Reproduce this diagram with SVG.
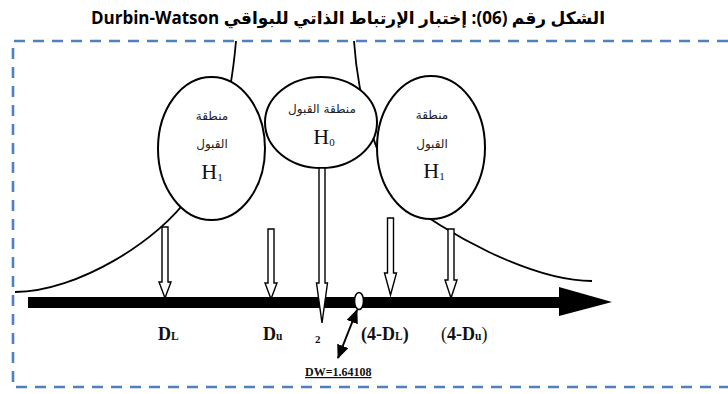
<svg xmlns="http://www.w3.org/2000/svg" width="728" height="394" viewBox="0 0 728 394">
  <style>
    .frame { fill: none; stroke: #4F81BD; stroke-width: 2.6; stroke-dasharray: 11 8; }
    .curve { fill: none; stroke: #000; stroke-width: 1.8; }
    .zone { fill: #fff; stroke: #000; stroke-width: 2; }
    .hollow { fill: #fff; stroke: #000; stroke-width: 1.4; stroke-linejoin: miter; }
    .ar { font-family: "DejaVu Sans", sans-serif; font-size: 12px; fill: #222; text-anchor: middle; direction: rtl; }
    .h { font-family: "Liberation Serif", "Times New Roman", serif; font-size: 22px; fill: #111; text-anchor: middle; }
    .sub { font-size: 11px; }
    .lbl { font-family: "Liberation Serif", "Times New Roman", serif; font-weight: bold; font-size: 18px; fill: #111; }
    .tick { font-family: "Liberation Serif", "Times New Roman", serif; font-weight: bold; font-size: 11px; fill: #111; }
    .dw { font-family: "Liberation Serif", "Times New Roman", serif; font-weight: bold; font-size: 12px; fill: #111; text-decoration: underline; }
    .small { font-size: 11.5px; }
    .title { font-family: "Open Sans", "DejaVu Sans", sans-serif; font-weight: bold; font-size: 17px; fill: #000; text-anchor: middle; direction: rtl; unicode-bidi: embed; }
  </style>
  <defs>
    <marker id="tri" markerUnits="userSpaceOnUse" markerWidth="14" markerHeight="12" refX="13" refY="6" orient="auto-start-reverse">
      <path d="M0,0 L14,6 L0,12 z" fill="#000"/>
    </marker>
  </defs>

  <rect width="728" height="394" fill="#fff"/>

  <!-- title -->
  <text class="title" x="348" y="24">الشكل رقم (06): إختبار الإرتباط الذاتي للبواقي Durbin-Watson</text>

  <!-- dashed frame, open on the right -->
  <path class="frame" d="M728,41 H13 V387 H728"/>

  <!-- bell-shaped density curve (partly hidden by the zones) -->
  <g id="curve">
    <path class="curve" d="M15,292 C77,292 160,240 190,195 C215,160 230,110 236,41"/>
    <path class="curve" d="M354,41 C358,100 375,160 405,200 C440,230 530,281 592,281"/>
  </g>

  <!-- horizontal axis with arrowhead -->
  <g id="axis">
    <rect x="28" y="297" width="533" height="11" fill="#000"/>
    <path d="M559,287 L612,302 L559,316 z" fill="#000"/>
  </g>

  <!-- zones -->
  <g id="zone-h1-left">
    <ellipse class="zone" cx="211.5" cy="148.5" rx="53.5" ry="71.5"/>
    <text class="ar" x="212" y="120">منطقة</text>
    <text class="ar" x="212" y="148">القبول</text>
    <text class="h" x="212" y="179">H<tspan class="sub" dy="2">1</tspan></text>
  </g>
  <g id="zone-h0">
    <ellipse class="zone" cx="321" cy="122.5" rx="56" ry="45.5"/>
    <text class="ar" x="322" y="113">منطقة القبول</text>
    <text class="h" x="324" y="144">H<tspan class="sub" dy="2">0</tspan></text>
  </g>
  <g id="zone-h1-right">
    <ellipse class="zone" cx="431" cy="147.5" rx="54" ry="71.5"/>
    <text class="ar" x="432" y="119">منطقة</text>
    <text class="ar" x="432" y="148">القبول</text>
    <text class="h" x="434" y="178">H<tspan class="sub" dy="2">1</tspan></text>
  </g>

  <!-- connectors: hollow pointers onto the axis -->
  <g id="connectors">
    <polygon class="hollow" points="162,227 168,227 168,282 171,282 165,298 159,282 162,282"/>
    <polygon class="hollow" points="268,229 274,229 274,283 277,283 271,299 265,283 268,283"/>
    <polygon class="hollow" points="319,168 325,168 325,283 327.5,283 322,323 316.5,283 319,283"/>
    <polygon class="hollow" points="387.5,218 393.5,218 393.5,273 396.5,273 390.5,295 384.5,273 387.5,273"/>
    <polygon class="hollow" points="448,229 454,229 454,280 457,280 451,298 445,280 448,280"/>
    <line x1="357" y1="310" x2="338" y2="358" stroke="#000" stroke-width="2" marker-start="url(#tri)" marker-end="url(#tri)"/>
  </g>

  <!-- observed statistic marker -->
  <g id="dw-point">
    <ellipse cx="359" cy="301" rx="4.5" ry="8.5" fill="#fff" stroke="#000" stroke-width="1.6"/>
  </g>

  <!-- axis labels -->
  <g id="labels">
    <text class="lbl" x="158" y="340">D<tspan class="small">L</tspan></text>
    <text class="lbl" x="263" y="340">D<tspan class="small">u</tspan></text>
    <text class="tick" x="315" y="343">2</text>
    <text class="lbl" x="361" y="340">(4-D<tspan class="small">L</tspan>)</text>
    <text class="lbl" x="441" y="340"><tspan font-weight="normal">(</tspan>4-D<tspan class="small">u</tspan><tspan font-weight="normal">)</tspan></text>
    <text class="dw" x="305" y="376">DW=1.64108</text>
  </g>
</svg>
